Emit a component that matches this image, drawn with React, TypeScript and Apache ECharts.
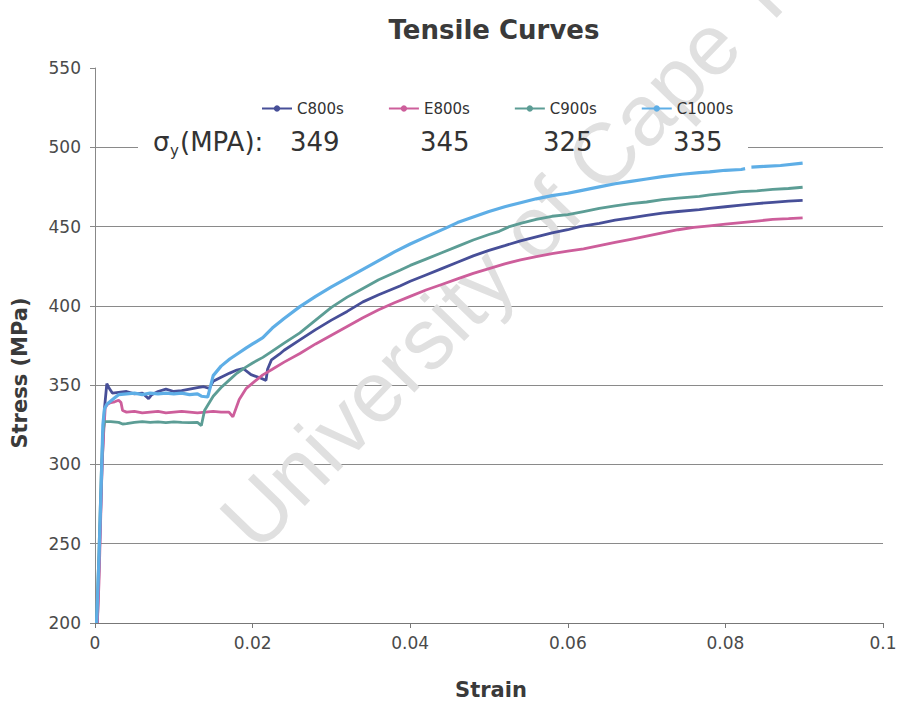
import React, { useEffect, useRef } from "react";
import * as echarts from "echarts";

const seriesNames = ["C800s", "E800s", "C900s", "C1000s"];
const seriesColors = ["#474f98", "#cd5e9b", "#5c9d95", "#5eaee6"];
const yieldValues = ["349", "345", "325", "335"];
const yieldX = [290, 420, 543, 673];

const xTicks = { min: 0, max: 0.1, interval: 0.02 };
const yTicks = { min: 200, max: 550, interval: 50 };

// [strain, stress (MPa)]
const c800s: (number | null)[][] = [
  [0.0003, 200], [0.0006, 250], [0.0009, 300], [0.0012, 335], [0.0015, 351],
  [0.0018, 348], [0.0022, 345], [0.003, 345.5], [0.004, 346], [0.005, 344.5],
  [0.006, 345], [0.0068, 341.5], [0.0072, 344], [0.008, 346], [0.009, 347.5],
  [0.01, 346], [0.011, 346.5], [0.012, 347.5], [0.013, 348.5], [0.0138, 349],
  [0.0145, 348], [0.015, 352.4], [0.016, 355], [0.0171, 357.6], [0.018, 359.5],
  [0.0188, 360.5], [0.0198, 356.6], [0.021, 354.5], [0.0217, 353], [0.0219, 360],
  [0.0224, 366], [0.0234, 369.5], [0.024, 372], [0.026, 378.5], [0.028, 385],
  [0.03, 391], [0.032, 396.5], [0.033, 399.5], [0.034, 402.5], [0.036, 407],
  [0.0387, 412.5], [0.04, 415.5], [0.042, 419.5], [0.044, 423.5], [0.046, 427.5],
  [0.048, 431.5], [0.05, 435], [0.052, 438], [0.054, 441], [0.056, 443.5],
  [0.058, 446], [0.06, 448], [0.0615, 450], [0.064, 452], [0.066, 454],
  [0.068, 455.5], [0.07, 457], [0.072, 458.5], [0.074, 459.5], [0.0767, 460.7],
  [0.078, 461.5], [0.08, 462.5], [0.082, 463.5], [0.084, 464.5], [0.086, 465.3],
  [0.088, 466], [0.0898, 466.5],
];

const e800s: (number | null)[][] = [
  [0.0003, 200], [0.0005, 225], [0.0007, 262], [0.0009, 300], [0.0011, 320],
  [0.0013, 336], [0.0016, 338], [0.002, 339], [0.0025, 339.5], [0.003, 340.5],
  [0.0033, 339], [0.0035, 334], [0.004, 333], [0.005, 333.5], [0.006, 332.5],
  [0.007, 333], [0.008, 333.5], [0.009, 332.5], [0.01, 333], [0.011, 333.5],
  [0.012, 333], [0.013, 332.5], [0.014, 333], [0.015, 333.5], [0.016, 333],
  [0.017, 333], [0.0175, 330], [0.0183, 341], [0.0192, 348], [0.0203, 352.5],
  [0.0213, 356.5], [0.0225, 360], [0.024, 364.5], [0.026, 370], [0.028, 376],
  [0.03, 381.5], [0.032, 387], [0.034, 392.5], [0.036, 397.5], [0.038, 402],
  [0.04, 406], [0.042, 410], [0.044, 413.5], [0.046, 417], [0.048, 420.5],
  [0.05, 423.5], [0.052, 426.5], [0.054, 429], [0.056, 431], [0.058, 433],
  [0.06, 434.5], [0.062, 436], [0.064, 438], [0.066, 440], [0.068, 442],
  [0.07, 444], [0.072, 446], [0.074, 448], [0.076, 449.5], [0.078, 450.5],
  [0.08, 451.5], [0.082, 452.5], [0.084, 453.5], [0.086, 454.5], [0.088, 455],
  [0.0898, 455.5],
];

const c900s: (number | null)[][] = [
  [0.0002, 200], [0.0005, 245], [0.0008, 295], [0.001, 320], [0.0012, 327],
  [0.002, 327], [0.003, 326.5], [0.0035, 325.5], [0.004, 325.8], [0.005, 326.5],
  [0.006, 327], [0.007, 326.5], [0.008, 326.8], [0.009, 326.3], [0.01, 326.8],
  [0.011, 326.5], [0.012, 326.3], [0.013, 326.5], [0.0135, 324.5], [0.0139, 334],
  [0.015, 343], [0.016, 348.5], [0.0171, 353.5], [0.018, 357.5], [0.0192, 361.5],
  [0.02, 364], [0.0213, 367.5], [0.0225, 371.5], [0.024, 376.5], [0.026, 383],
  [0.028, 391], [0.03, 399], [0.032, 405.5], [0.034, 411], [0.036, 416.5],
  [0.0387, 422.5], [0.04, 425.5], [0.042, 429.5], [0.044, 433.5], [0.046, 437.5],
  [0.048, 441.5], [0.05, 445], [0.0513, 447], [0.0526, 450], [0.054, 452],
  [0.056, 454.5], [0.058, 456.5], [0.06, 457.5], [0.062, 459.5], [0.064, 461.5],
  [0.066, 463], [0.068, 464.5], [0.07, 465.5], [0.072, 467], [0.074, 468],
  [0.0767, 469], [0.078, 470], [0.08, 471], [0.082, 472], [0.084, 472.5],
  [0.086, 473.5], [0.088, 474], [0.0898, 474.8],
];

const c1000s: (number | null)[][] = [
  [0.0002, 200], [0.0005, 240], [0.0008, 290], [0.001, 325], [0.0012, 335],
  [0.0015, 338], [0.002, 340], [0.0025, 342], [0.003, 344], [0.004, 344.5],
  [0.005, 345], [0.006, 344], [0.007, 345], [0.008, 344.5], [0.009, 345],
  [0.01, 344.5], [0.011, 345], [0.012, 344], [0.013, 344.5], [0.0135, 343],
  [0.0143, 342.5], [0.0147, 350], [0.015, 356], [0.016, 362], [0.0171, 366.5],
  [0.018, 369.5], [0.0192, 373.5], [0.02, 376], [0.0213, 380], [0.0225, 386],
  [0.024, 392], [0.026, 399.5], [0.028, 406], [0.03, 412], [0.032, 417.5],
  [0.034, 423], [0.036, 428.5], [0.038, 434], [0.04, 439], [0.042, 443.5],
  [0.0445, 449], [0.046, 452.5], [0.048, 456], [0.05, 459.5], [0.052, 462.5],
  [0.054, 465], [0.056, 467.5], [0.058, 469.5], [0.06, 471], [0.0615, 472.5],
  [0.064, 475], [0.066, 477], [0.068, 478.5], [0.07, 480], [0.072, 481.5],
  [0.0745, 483], [0.0767, 484], [0.078, 484.5], [0.08, 485.5], [0.082, 486],
  [0.0825, 486.5], [0.0829, null], [0.0833, 487.5], [0.085, 488], [0.087, 488.5],
  [0.0898, 490],
];

const allData = [c800s, e800s, c900s, c1000s];

const FONT = "DejaVu Sans";

export default function App() {
  const ref = useRef<HTMLDivElement>(null);
  useEffect(() => {
    if (!ref.current) return;
    const chart = echarts.init(ref.current, undefined, { renderer: "svg" });
    const option: any = {
      animation: false,
      backgroundColor: "#ffffff",
      title: {
        text: "Tensile Curves",
        left: 489,
        top: 12,
        textAlign: "center",
        textStyle: { fontFamily: FONT, fontSize: 26, fontWeight: "bold", color: "#3a3a3a" },
      },
      grid: { left: 95, right: 17, top: 68, bottom: 80 },
      legend: {
        left: 256,
        top: 96,
        itemWidth: 30,
        itemHeight: 8,
        itemGap: 44,
        data: seriesNames,
        textStyle: { fontFamily: FONT, fontSize: 15, color: "#333" },
      },
      xAxis: {
        type: "value",
        min: xTicks.min,
        max: xTicks.max,
        interval: xTicks.interval,
        axisLine: { show: true, lineStyle: { color: "#777", width: 1 } },
        axisTick: { show: true, length: 5, lineStyle: { color: "#777" } },
        axisLabel: { fontFamily: FONT, fontSize: 17, color: "#4a4a4a", margin: 11 },
        splitLine: { show: false },
      },
      yAxis: {
        type: "value",
        min: yTicks.min,
        max: yTicks.max,
        interval: yTicks.interval,
        axisLine: { show: true, lineStyle: { color: "#888", width: 1 } },
        axisTick: { show: true, length: 5, lineStyle: { color: "#888" } },
        axisLabel: { fontFamily: FONT, fontSize: 17, color: "#4a4a4a", margin: 14 },
        splitLine: { show: true, showMaxLine: false, lineStyle: { color: "#8a8a8a", width: 1 } },
      },
      graphic: [
        {
          type: "rect",
          shape: { x: 138, y: 86, width: 610, height: 74 },
          style: { fill: "#ffffff" },
          z: 1,
        },
        {
          type: "text",
          x: 236,
          y: 534,
          rotation: (46 * Math.PI) / 180,
          z: 1,
          style: {
            text: "University of Cape Town",
            fontFamily: "Liberation Sans",
            fontSize: 86,
            fill: "#e0e0e0",
            textAlign: "left",
            textVerticalAlign: "middle",
          },
        },
        {
          type: "text",
          x: 20,
          y: 373,
          rotation: Math.PI / 2,
          z: 5,
          style: {
            text: "Stress (MPa)",
            fontFamily: FONT,
            fontSize: 21,
            fontWeight: "bold",
            fill: "#3a3a3a",
            textAlign: "center",
            textVerticalAlign: "middle",
          },
        },
        {
          type: "text",
          x: 491,
          y: 690,
          z: 5,
          style: {
            text: "Strain",
            fontFamily: FONT,
            fontSize: 21,
            fontWeight: "bold",
            fill: "#3a3a3a",
            textAlign: "center",
            textVerticalAlign: "middle",
          },
        },
        {
          type: "text",
          x: 153,
          y: 142,
          z: 5,
          style: { text: "σ", fontFamily: FONT, fontSize: 26, fill: "#333", textAlign: "left", textVerticalAlign: "middle" },
        },
        {
          type: "text",
          x: 170,
          y: 151,
          z: 5,
          style: { text: "y", fontFamily: FONT, fontSize: 15, fill: "#333", textAlign: "left", textVerticalAlign: "middle" },
        },
        {
          type: "text",
          x: 180,
          y: 142,
          z: 5,
          style: { text: "(MPA):", fontFamily: FONT, fontSize: 26, fill: "#333", textAlign: "left", textVerticalAlign: "middle" },
        },
        ...yieldValues.map((v, i) => ({
          type: "text",
          x: yieldX[i],
          y: 142,
          z: 5,
          style: { text: v, fontFamily: FONT, fontSize: 26, fill: "#333", textAlign: "left", textVerticalAlign: "middle" },
        })),
      ],
      series: allData.map((d, i) => ({
        name: seriesNames[i],
        type: "line",
        data: d,
        showSymbol: false,
        symbol: "circle",
        symbolSize: 3,
        connectNulls: false,
        color: seriesColors[i],
        lineStyle: { width: i === 3 ? 3.2 : 2.8, color: seriesColors[i] },
        z: 3 + i,
      })),
    };
    chart.setOption(option);
    return () => chart.dispose();
  }, []);
  return (
    <div
      ref={ref}
      style={{ position: "absolute", left: 0, top: 0, width: 900, height: 703 }}
    />
  );
}
